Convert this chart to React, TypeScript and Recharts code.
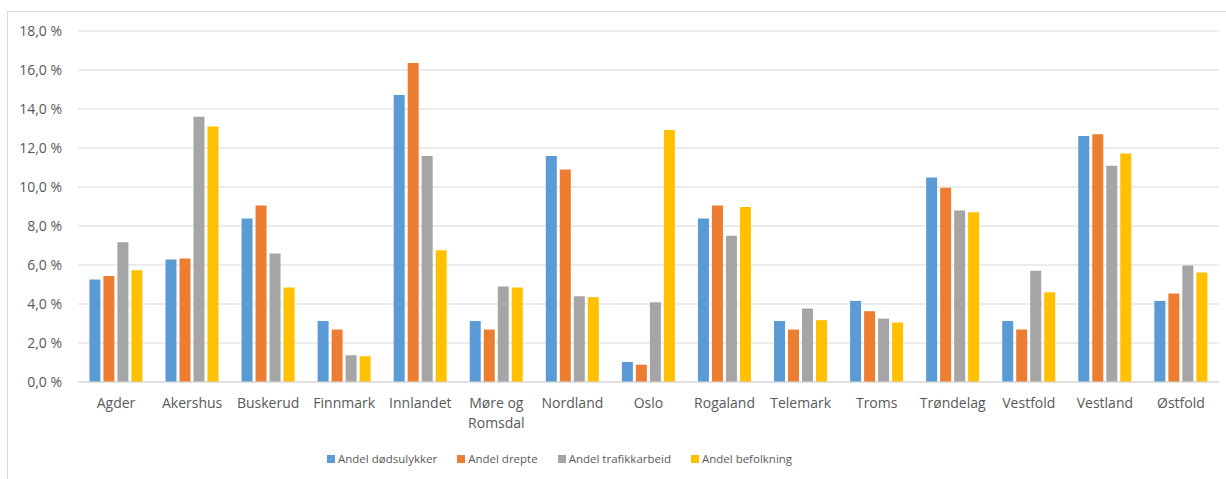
import React from "react";
import {
  BarChart, Bar, XAxis, YAxis, CartesianGrid, Legend,
} from "recharts";

const fylker = [
  "Agder", "Akershus", "Buskerud", "Finnmark", "Innlandet", "Møre og Romsdal",
  "Nordland", "Oslo", "Rogaland", "Telemark", "Troms", "Trøndelag",
  "Vestfold", "Vestland", "Østfold",
];

const dodsulykker = [5.26, 6.28, 8.39, 3.13, 14.72, 3.13, 11.59, 1.03, 8.39, 3.13, 4.16, 10.49, 3.13, 12.61, 4.16];
const drepte = [5.43, 6.33, 9.05, 2.69, 16.36, 2.69, 10.9, 0.89, 9.05, 2.69, 3.63, 9.96, 2.69, 12.7, 4.54];
const trafikkarbeid = [7.17, 13.6, 6.59, 1.37, 11.59, 4.9, 4.4, 4.09, 7.5, 3.77, 3.25, 8.8, 5.7, 11.09, 5.98];
const befolkning = [5.73, 13.1, 4.85, 1.32, 6.76, 4.85, 4.35, 12.92, 8.97, 3.17, 3.05, 8.71, 4.6, 11.72, 5.62];

const yTicks = [0, 2, 4, 6, 8, 10, 12, 14, 16, 18];

const series = [
  { key: "dodsulykker", name: "Andel dødsulykker", color: "#5b9bd5" },
  { key: "drepte", name: "Andel drepte", color: "#ed7d31" },
  { key: "trafikkarbeid", name: "Andel trafikkarbeid", color: "#a5a5a5" },
  { key: "befolkning", name: "Andel befolkning", color: "#ffc000" },
];

const data = fylker.map((f, i) => ({
  fylke: f,
  dodsulykker: dodsulykker[i],
  drepte: drepte[i],
  trafikkarbeid: trafikkarbeid[i],
  befolkning: befolkning[i],
}));

const FONT = "'Open Sans', sans-serif";
const TEXT = "#595959";

const fmt = (v: number) => v.toFixed(1).replace(".", ",") + " %";

// break long names before the last word (Møre og / Romsdal)
function splitLabel(s: string): string[] {
  if (s.length > 10 && s.includes(" ")) {
    const idx = s.lastIndexOf(" ");
    return [s.slice(0, idx), s.slice(idx + 1)];
  }
  return [s];
}

const XTick = (props: any) => {
  const { x, y, payload } = props;
  const lines = splitLabel(payload.value);
  return (
    <text x={x} y={y} textAnchor="middle" fill={TEXT} fontSize={14} fontFamily={FONT}>
      {lines.map((l, i) => (
        <tspan key={i} x={x} dy={i === 0 ? 18 : 20}>{l}</tspan>
      ))}
    </text>
  );
};

const LegendContent = () => (
  <div style={{ display: "flex", fontFamily: FONT, fontSize: 11.5, color: TEXT, whiteSpace: "nowrap" }}>
    {series.map((s) => (
      <div key={s.key} style={{ display: "flex", alignItems: "center", marginRight: 20 }}>
        <span style={{ width: 8, height: 8, background: s.color, display: "inline-block", marginRight: 3 }} />
        <span>{s.name}</span>
      </div>
    ))}
  </div>
);

export default function App() {
  return (
    <div style={{ position: "absolute", left: 0, top: 0, width: 1226, height: 479, background: "#fff", overflow: "hidden" }}>
      <div style={{ position: "absolute", left: 7, top: 11, width: 1230, height: 480, border: "1px solid #d9d9d9" }} />
      <div style={{ position: "absolute", left: 0, top: 0 }}>
        <BarChart
          width={1226}
          height={479}
          data={data}
          margin={{ top: 31, right: 7, left: 8, bottom: 47 }}
          barCategoryGap="15%"
          barGap={3}
        >
          <CartesianGrid vertical={false} stroke="#d9d9d9" />
          <XAxis
            dataKey="fylke"
            height={50}
            interval={0}
            tickLine={false}
            axisLine={{ stroke: "#d9d9d9" }}
            tick={<XTick />}
          />
          <YAxis
            width={70}
            domain={[0, 18]}
            ticks={yTicks}
            tickFormatter={fmt}
            tickLine={false}
            tickMargin={10}
            axisLine={false}
            tick={{ fontSize: 14, fill: TEXT, fontFamily: FONT }}
          />
          <Legend
            verticalAlign="middle"
            align="center"
            content={<LegendContent />}
            wrapperStyle={{ top: 451, left: 327, width: 520, height: 20 }}
          />
          {series.map((s) => (
            <Bar key={s.key} dataKey={s.key} name={s.name} fill={s.color} isAnimationActive={false} />
          ))}
        </BarChart>
      </div>
    </div>
  );
}
